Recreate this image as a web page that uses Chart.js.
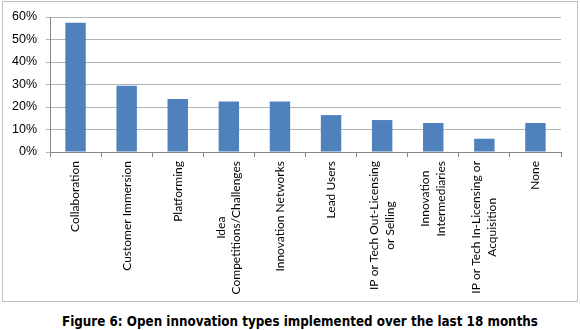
<!DOCTYPE html>
<html>
<head>
<meta charset="utf-8">
<script src="https://cdn.jsdelivr.net/npm/chart.js@4/dist/chart.umd.min.js"></script>
<style>
  html, body { margin: 0; padding: 0; background: #fff; }
  body { width: 580px; height: 330px; position: relative; overflow: hidden; }
  #frame { position: absolute; left: 2px; top: 1px; width: 574px; height: 299px; border: 1px solid #bfbfbf; }
  #wrap { position: absolute; left: 0; top: 0; width: 580px; height: 305px; }
  #caption { position: absolute; left: 0; width: 600px; top: 314px; text-align: center;
    font: bold 13.3px "DejaVu Sans Condensed", "DejaVu Sans", sans-serif; color: #000; white-space: nowrap; }
</style>
</head>
<body>
<div id="frame"></div>
<div id="wrap"><canvas id="c" width="580" height="305"></canvas></div>
<div id="caption">Figure 6: Open innovation types implemented over the last 18 months</div>
<script>
const categories = [
  ["Collaboration"],
  ["Customer Immersion"],
  ["Platforming"],
  ["Idea", "Competitions/Challenges"],
  ["Innovation Networks"],
  ["Lead Users"],
  ["IP or Tech Out-Licensing", "or Selling"],
  ["Innovation", "Intermediaries"],
  ["IP or Tech In-Licensing or", "Acquisition"],
  ["None"]
];
const shares = [57.5, 29.5, 23.6, 22.4, 22.4, 16.4, 14.2, 12.9, 5.9, 12.9];
const yTicks = [0, 10, 20, 30, 40, 50, 60];

const LABEL_FONT = '12px Lato, "Liberation Sans", sans-serif';
const LINE_H = 15.5;

const catLabels = {
  id: 'catLabels',
  afterDraw(chart) {
    const sx = chart.scales.x, ctx = chart.ctx;
    ctx.save();
    ctx.font = LABEL_FONT;
    ctx.fillStyle = '#000';
    ctx.textAlign = 'center';
    ctx.textBaseline = 'middle';
    categories.forEach((lines, i) => {
      const w = Math.max(...lines.map(l => ctx.measureText(l).width));
      const x = sx.getPixelForValue(i);
      const yc = sx.top + 9 + w / 2;
      ctx.save();
      ctx.translate(x, yc);
      ctx.rotate(-Math.PI / 2);
      lines.forEach((l, j) => ctx.fillText(l, 0, (j - (lines.length - 1) / 2) * LINE_H));
      ctx.restore();
    });
    ctx.restore();
  }
};

new Chart(document.getElementById('c'), {
  type: 'bar',
  data: {
    labels: categories.map(c => c.join(' ')),
    datasets: [{
      data: shares,
      backgroundColor: '#4f81bd',
      borderWidth: 0,
      barPercentage: 0.4,
      categoryPercentage: 1.0
    }]
  },
  options: {
    responsive: false,
    animation: false,
    devicePixelRatio: 1,
    layout: { padding: { left: 0, top: 17, right: 19, bottom: 0 } },
    plugins: { legend: { display: false }, tooltip: { enabled: false } },
    scales: {
      x: {
        grid: { display: true, drawOnChartArea: false, drawTicks: true, tickLength: 5, color: '#868686', offset: true },
        border: { display: true, color: '#868686' },
        ticks: { display: false },
        afterFit: s => { s.height = 153; }
      },
      y: {
        min: 0, max: 60,
        afterBuildTicks: s => { s.ticks = yTicks.map(v => ({ value: v })); },
        grid: { color: '#b3b3b3', tickLength: 4, drawTicks: true },
        border: { display: true, color: '#868686' },
        ticks: {
          padding: 9,
          color: '#000',
          font: { family: '"Liberation Sans", Arial, sans-serif', size: 12.5 },
          callback: v => v + '%'
        },
        afterFit: s => { s.width = 50; }
      }
    }
  },
  plugins: [catLabels]
});
</script>
</body>
</html>
